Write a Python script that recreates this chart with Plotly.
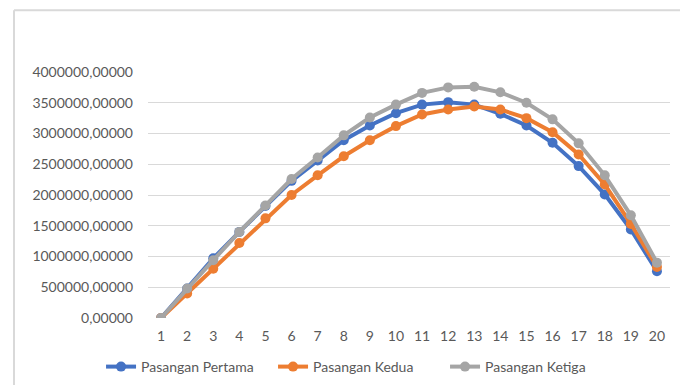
import plotly.graph_objects as go

categories = list(range(1, 21))
pertama = [0, 480000, 970000, 1400000, 1820000, 2230000, 2560000, 2890000, 3130000, 3330000,
           3470000, 3510000, 3470000, 3320000, 3130000, 2850000, 2470000, 2010000, 1440000, 760000]
kedua = [0, 400000, 800000, 1220000, 1620000, 2000000, 2320000, 2630000, 2890000, 3120000,
         3310000, 3390000, 3440000, 3390000, 3250000, 3020000, 2660000, 2170000, 1530000, 830000]
ketiga = [0, 480000, 940000, 1400000, 1830000, 2260000, 2610000, 2970000, 3260000, 3470000,
          3660000, 3750000, 3760000, 3670000, 3500000, 3230000, 2840000, 2320000, 1670000, 900000]
y_ticks = [0, 500000, 1000000, 1500000, 2000000, 2500000, 3000000, 3500000, 4000000]
y_labels = ["0,00000", "500000,00000", "1000000,00000", "1500000,00000", "2000000,00000",
            "2500000,00000", "3000000,00000", "3500000,00000", "4000000,00000"]

series = [("Pasangan Pertama", pertama, "#4472C4"),
          ("Pasangan Kedua", kedua, "#ED7D31"),
          ("Pasangan Ketiga", ketiga, "#A5A5A5")]

fig = go.Figure()
for name, vals, col in series:
    fig.add_trace(go.Scatter(x=categories, y=vals, name=name, mode="lines+markers",
                             line=dict(color=col, width=4),
                             marker=dict(color=col, size=10)))

fam = "Lato, Open Sans, sans-serif"
fig.update_layout(
    width=680, height=385,
    margin=dict(l=148, r=10, t=72, b=67),
    paper_bgcolor="white", plot_bgcolor="white",
    font=dict(family=fam, size=14, color="#595959"),
    showlegend=True,
    legend=dict(orientation="h", xref="container", yref="container",
                x=0.528, xanchor="center", y=1 - 367 / 385, yanchor="middle",
                font=dict(family=fam, size=14, color="#595959"),
                itemwidth=30, traceorder="normal",
                entrywidth=127, entrywidthmode="pixels"),
    xaxis=dict(range=[0.5, 20.5], tickmode="array", tickvals=categories,
               ticktext=[str(c) for c in categories], showgrid=False, zeroline=False,
               showline=False, ticks="", automargin=False, ticklabelstandoff=8,
               tickfont=dict(family=fam, size=14, color="#595959")),
    yaxis=dict(range=[0, 4000000], tickmode="array", tickvals=y_ticks, ticktext=y_labels,
               showgrid=True, gridcolor="#D9D9D9", gridwidth=1, zeroline=False,
               showline=False, ticks="", ticklabelstandoff=14, automargin=False,
               tickfont=dict(family=fam, size=14, color="#595959")),
    shapes=[
        dict(type="line", xref="paper", yref="paper", x0=-0.2567, x1=1.1, y0=1.2508, y1=1.2508,
             line=dict(color="#D9D9D9", width=2)),
        dict(type="line", xref="paper", yref="paper", x0=-0.2567, x1=-0.2567, y0=1.2508, y1=-0.3,
             line=dict(color="#D9D9D9", width=2)),
    ],
)
fig.write_html("out.html", config={"displayModeBar": False},
               post_script="document.body.style.margin='0';")
